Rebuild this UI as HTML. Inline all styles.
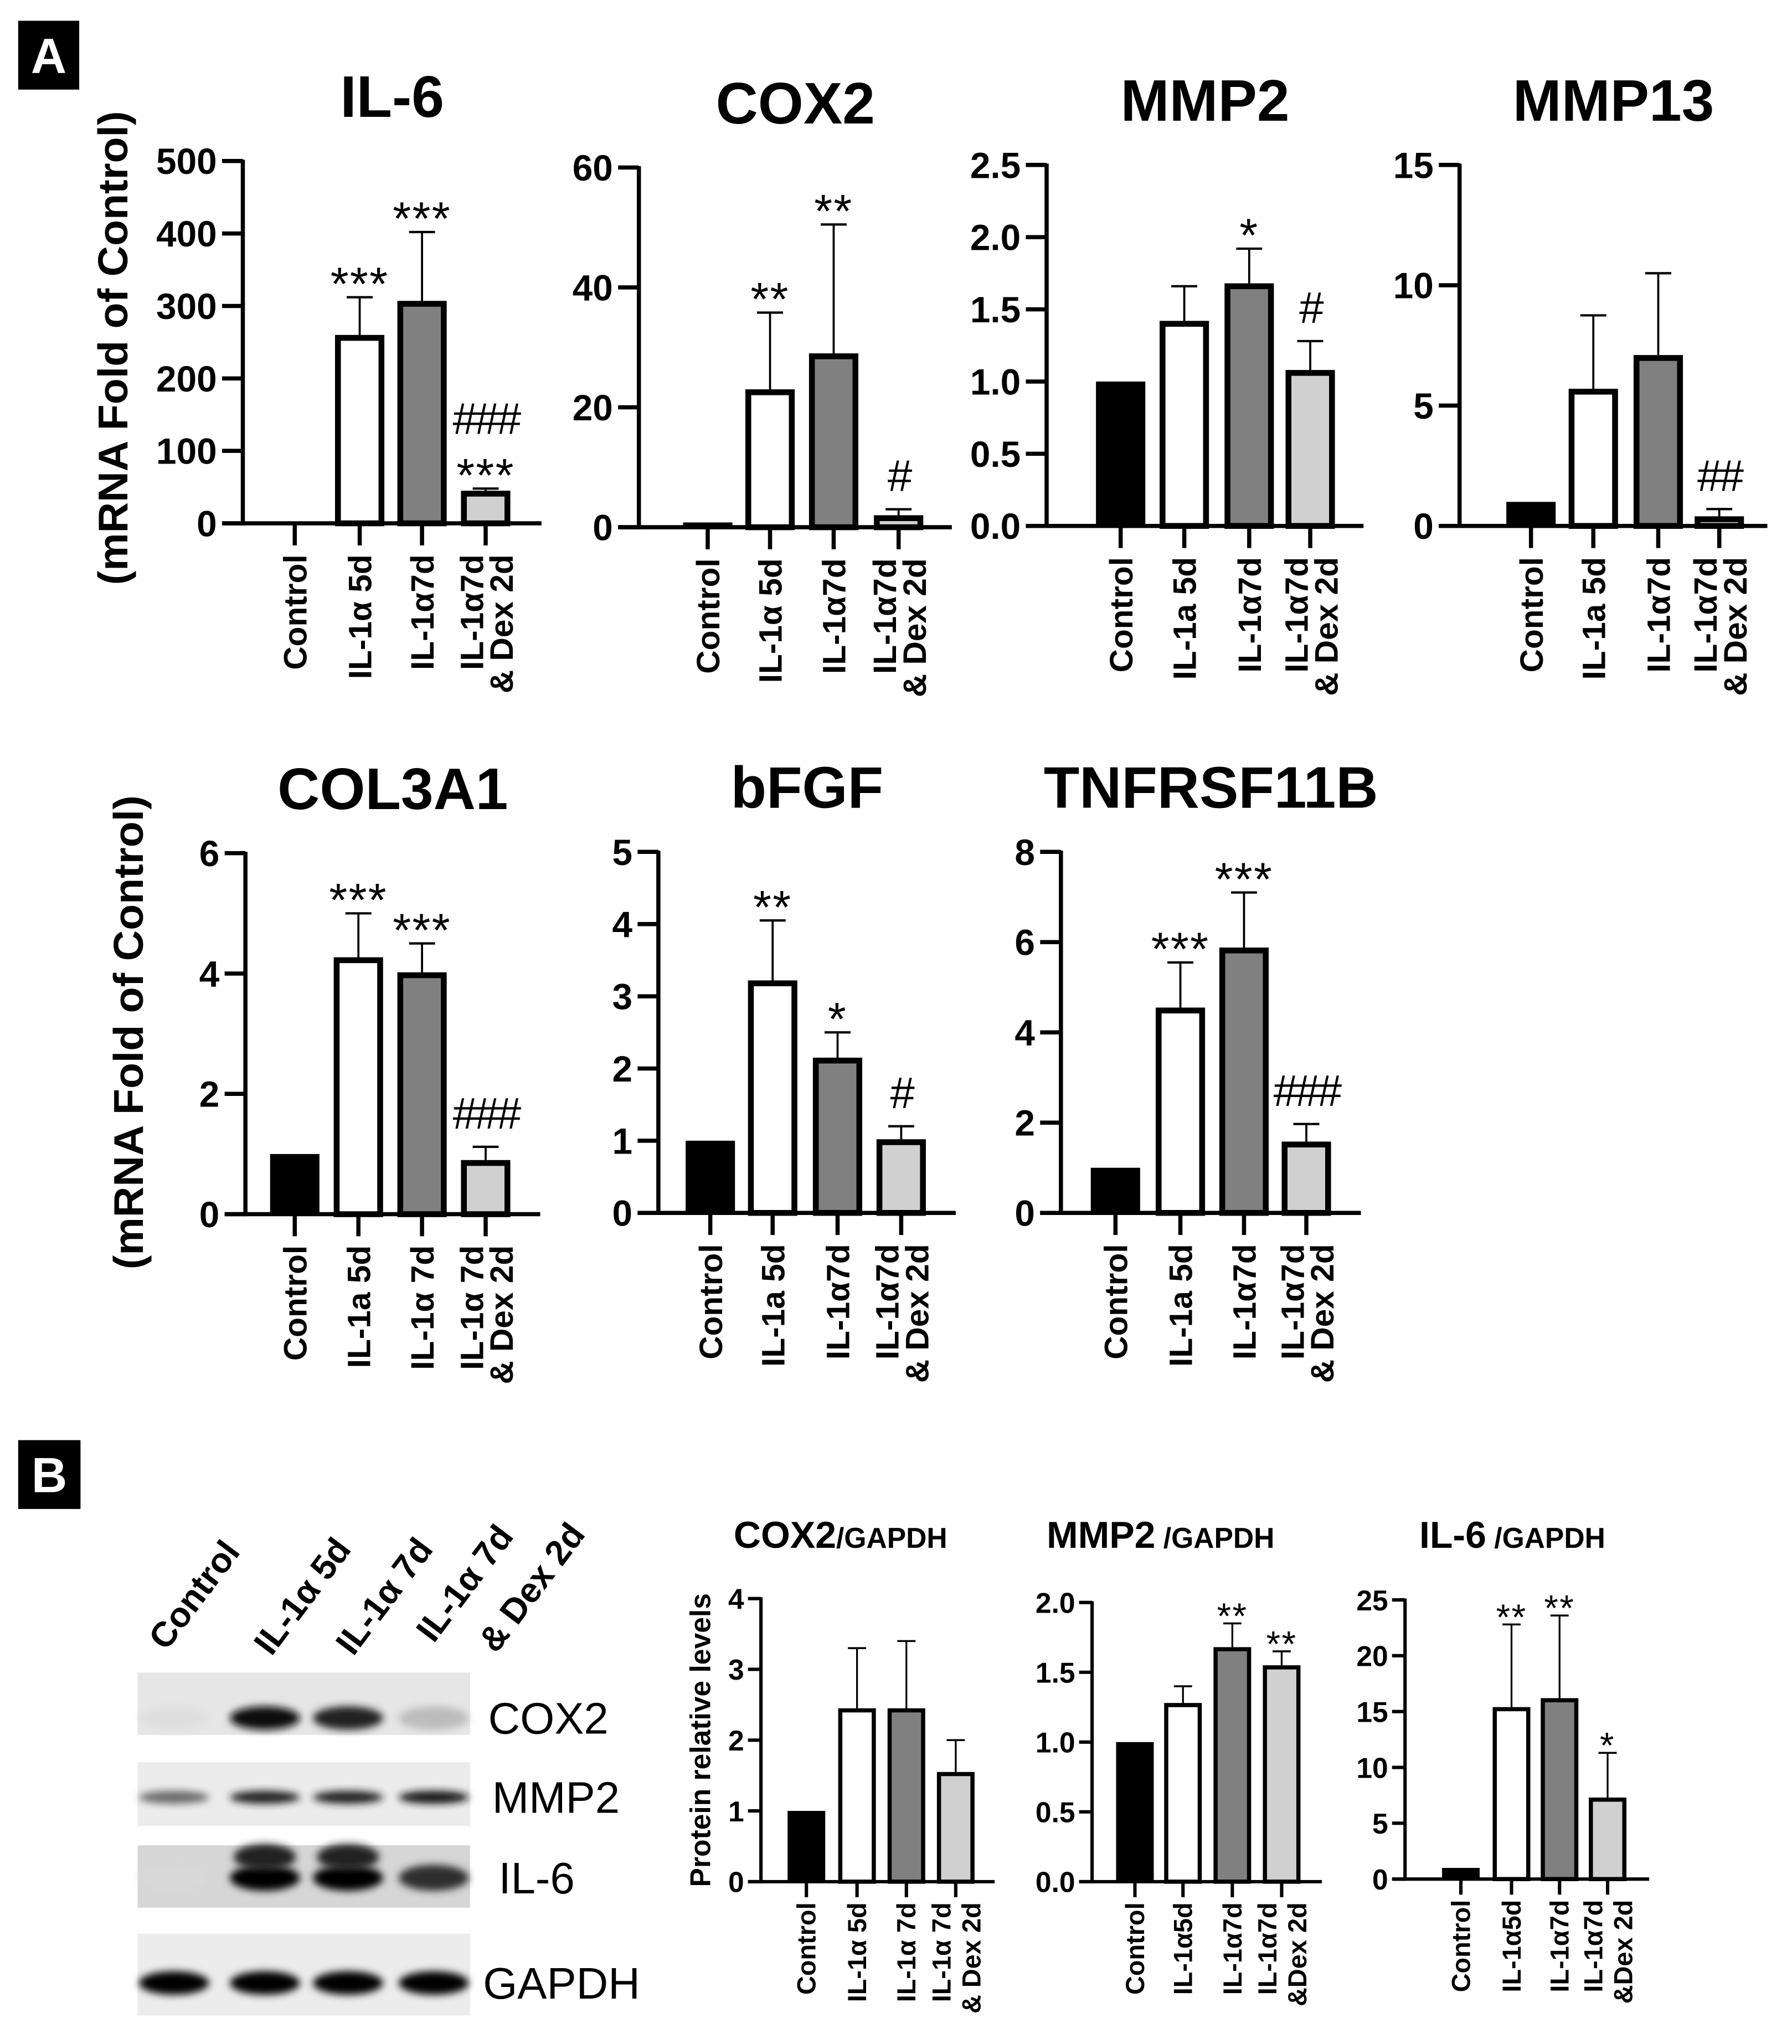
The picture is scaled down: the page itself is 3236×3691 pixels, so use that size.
<!DOCTYPE html>
<html><head><meta charset="utf-8"><style>
html,body{margin:0;padding:0;background:#fff;}
svg{display:block;}
text{font-family:"Liberation Sans",sans-serif;}
</style></head><body>
<svg id="fig" xmlns="http://www.w3.org/2000/svg" width="3236" height="3691" viewBox="0 0 1380 1574" preserveAspectRatio="none">
<defs><filter id="blur" x="-20%" y="-50%" width="140%" height="200%"><feGaussianBlur stdDeviation="3"/></filter></defs>
<rect x="0" y="0" width="1380" height="1574" fill="#fff"/>
<g><rect x="14" y="16" width="47" height="53" fill="#000"/><text x="37.5" y="56" text-anchor="middle" fill="#fff" font-family="Liberation Serif,serif" font-weight="bold" font-size="38">A</text></g>
<g><rect x="14" y="1109" width="48" height="53" fill="#000"/><text x="38" y="1149" text-anchor="middle" fill="#fff" font-family="Liberation Serif,serif" font-weight="bold" font-size="38">B</text></g>
<text transform="translate(98,268) rotate(-90)" text-anchor="middle" font-weight="bold" font-size="32" textLength="365" lengthAdjust="spacingAndGlyphs">(mRNA Fold of Control)</text>
<text transform="translate(110,795) rotate(-90)" text-anchor="middle" font-weight="bold" font-size="32" textLength="365" lengthAdjust="spacingAndGlyphs">(mRNA Fold of Control)</text>
<text transform="translate(547,1340) rotate(-90)" text-anchor="middle" font-weight="bold" font-size="22">Protein relative levels</text>
<g id="blot"></g>
<g id="charts"></g>
</svg>
<script>
// ---- Panel A data ----
const groups = ["Control","IL-1α 5d","IL-1α7d","IL-1α7d & Dex 2d"];
const il6Values = [1, 260, 307, 45];
const il6Err = [0, 312, 402, 48];
const il6Ticks = ["0","100","200","300","400","500"];
const cox2Values = [0.8, 23, 29, 2];
const cox2Err = [0, 35.8, 50.5, 3];
const cox2Ticks = ["0","20","40","60"];
const mmp2Values = [1.0, 1.42, 1.68, 1.08];
const mmp2Err = [0, 1.66, 1.92, 1.28];
const mmp2Ticks = ["0.0","0.5","1.0","1.5","2.0","2.5"];
const mmp13Values = [1, 5.7, 7.1, 0.4];
const mmp13Err = [0, 8.75, 10.5, 0.7];
const mmp13Ticks = ["0","5","10","15"];
const col3a1Values = [1, 4.27, 4.02, 0.9];
const col3a1Err = [0, 5.0, 4.5, 1.12];
const col3a1Ticks = ["0","2","4","6"];
const bfgfValues = [1, 3.22, 2.15, 1.02];
const bfgfErr = [0, 4.05, 2.5, 1.2];
const bfgfTicks = ["0","1","2","3","4","5"];
const tnfValues = [1, 4.55, 5.88, 1.58];
const tnfErr = [0, 5.55, 7.1, 1.97];
const tnfTicks = ["0","2","4","6","8"];
// ---- Panel B data ----
const pCox2Values = [1, 2.45, 2.45, 1.55];
const pCox2Err = [0, 3.3, 3.4, 2.0];
const pCox2Ticks = ["0","1","2","3","4"];
const pMmp2Values = [1, 1.28, 1.68, 1.55];
const pMmp2Err = [0, 1.4, 1.85, 1.65];
const pMmp2Ticks = ["0.0","0.5","1.0","1.5","2.0"];
const pIl6Values = [1, 15.4, 16.2, 7.3];
const pIl6Err = [0, 22.8, 23.6, 11.3];
const pIl6Ticks = ["0","5","10","15","20","25"];

const fills = ["#000","#fff","#808080","#d0d0d0"];
const NS = "http://www.w3.org/2000/svg";
const root = document.getElementById('charts');
function mk(tag, attrs, parent){ const e=document.createElementNS(NS,tag); for(const k in attrs) e.setAttribute(k,attrs[k]); (parent||root).appendChild(e); return e; }

const charts = [
 {name:"il6", title:"IL-6", v:il6Values, e:il6Err, t:il6Ticks, ax:187, x1:417, yTop:124, y0:403, cx:[227,277,325,374], bw:38, ann:[[],["***"],["***"],["###","***"]], labels:["Control","IL-1α 5d","IL-1α7d",["IL-1α7d","& Dex 2d"]], big:true},
 {name:"cox2", title:"COX2", v:cox2Values, e:cox2Err, t:cox2Ticks, ax:492, x1:733, yTop:129, y0:406, cx:[545,593,642,692], bw:38, ann:[[],["**"],["**"],["#"]], labels:["Control","IL-1α 5d","IL-1α7d",["IL-1α7d","& Dex 2d"]], big:true},
 {name:"mmp2", title:"MMP2", v:mmp2Values, e:mmp2Err, t:mmp2Ticks, ax:806, x1:1050, yTop:127, y0:405, cx:[863,912,962,1009], bw:38, ann:[[],[],["*"],["#"]], labels:["Control","IL-1a 5d","IL-1α7d",["IL-1α7d","& Dex 2d"]], big:true},
 {name:"mmp13", title:"MMP13", v:mmp13Values, e:mmp13Err, t:mmp13Ticks, ax:1124, x1:1361, yTop:127, y0:405, cx:[1179,1227,1277,1324], bw:38, ann:[[],[],[],["##"]], labels:["Control","IL-1a 5d","IL-1α7d",["IL-1α7d","& Dex 2d"]], big:true},
 {name:"col3a1", title:"COL3A1", v:col3a1Values, e:col3a1Err, t:col3a1Ticks, ax:189, x1:416, yTop:657, y0:935, cx:[227,276,325,374], bw:38, ann:[[],["***"],["***"],["###"]], labels:["Control","IL-1a 5d","IL-1α 7d",["IL-1α 7d","& Dex 2d"]], big:true},
 {name:"bfgf", title:"bFGF", v:bfgfValues, e:bfgfErr, t:bfgfTicks, ax:507, x1:736, yTop:656, y0:934, cx:[547,595,645,694], bw:38, ann:[[],["**"],["*"],["#"]], labels:["Control","IL-1a 5d","IL-1α7d",["IL-1α7d","& Dex 2d"]], big:true},
 {name:"tnfrsf11b", title:"TNFRSF11B", v:tnfValues, e:tnfErr, t:tnfTicks, ax:817, x1:1048, yTop:656, y0:934, cx:[859,909,958,1006], bw:38, ann:[[],["***"],["***"],["###"]], labels:["Control","IL-1a 5d","IL-1α7d",["IL-1α7d","& Dex 2d"]], big:true},
 {name:"protein-cox2", title:"COX2", sub:"/GAPDH", tx:565, v:pCox2Values, e:pCox2Err, t:pCox2Ticks, ax:586, x1:766, yTop:1231, y0:1449, cx:[621,660,698,736], bw:29, ann:[[],[],[],[]], labels:["Control","IL-1α 5d","IL-1α 7d",["IL-1α 7d","& Dex 2d"]], big:false},
 {name:"protein-mmp2", title:"MMP2", sub:" /GAPDH", tx:806, v:pMmp2Values, e:pMmp2Err, t:pMmp2Ticks, ax:841, x1:1018, yTop:1234, y0:1449, cx:[874,911,949,987], bw:29, ann:[[],[],["**"],["**"]], labels:["Control","IL-1α5d","IL-1α7d",["IL-1α7d","&Dex 2d"]], big:false},
 {name:"protein-il6", title:"IL-6", sub:" /GAPDH", tx:1093, v:pIl6Values, e:pIl6Err, t:pIl6Ticks, ax:1082, x1:1270, yTop:1232, y0:1447, cx:[1125,1164,1201,1238], bw:29, ann:[[],["**"],["**"],["*"]], labels:["Control","IL-1α5d","IL-1α7d",["IL-1α7d","&Dex 2d"]], big:false}
];

charts.forEach(c=>{
  const g = mk('g',{});
  
  
  const maxV = parseFloat(c.t[c.t.length-1]);
  const yS = v => c.y0 - (v/maxV)*(c.y0-c.yTop);
  const big = c.big;
  const lw = big?3.2:2.6, bstroke = big?4.5:3.2;
  const tx = (c.ax + c.x1)/2;
  const ty = big ? c.yTop-34 : 1192;
  const tt = mk('text',{x: big?tx:c.tx, y:ty, 'text-anchor': big?'middle':'start', 'font-weight':'bold', 'font-size': big?45:29},g);
  
  
  tt.textContent = c.title;
  if(c.sub){ const ts=mk('tspan',{'font-size':22},tt); ts.textContent=c.sub; }
  const ya = mk('line',{x1:c.ax,y1:c.yTop-1,x2:c.ax,y2:c.y0+lw/2,stroke:'#000','stroke-width':lw},g);
  
  
  c.t.forEach(lbl=>{
    const y = yS(parseFloat(lbl));
    mk('line',{x1:c.ax-(big?16:10),y1:y,x2:c.ax,y2:y,stroke:'#000','stroke-width':lw},g);
    const tl = mk('text',{x:c.ax-(big?20:13), y:y+(big?10:8), 'text-anchor':'end','font-weight':'bold','font-size':big?28:22},g);
    
    
    tl.textContent = lbl;
  });
  const xa = mk('line',{x1:c.ax-(big?16:10),y1:c.y0,x2:c.x1,y2:c.y0,stroke:'#000','stroke-width':lw},g);
  
  
  c.v.forEach((v,i)=>{
    const cx = c.cx[i];
    const top = yS(v);
    if(c.e[i] > v){
      const ey = yS(c.e[i]);
      mk('line',{x1:cx,y1:ey,x2:cx,y2:top,stroke:'#000','stroke-width':big?1.6:1.4},g);
      mk('line',{x1:cx-(big?10:7),y1:ey,x2:cx+(big?10:7),y2:ey,stroke:'#000','stroke-width':big?1.8:1.5},g);
    }
    const h = Math.max(c.y0-top,0.5);
    const r = mk('rect',{x:cx-c.bw/2+bstroke/2, y:top+bstroke/2, width:c.bw-bstroke, height:Math.max(h-bstroke/2,0.5), fill:fills[i], stroke:'#000','stroke-width':bstroke},g);
    if(i===0){ r.setAttribute('y', top); r.setAttribute('height', h); r.setAttribute('stroke','none'); r.setAttribute('x', cx-c.bw/2); r.setAttribute('width', c.bw); }
    
    
    mk('line',{x1:cx,y1:c.y0,x2:cx,y2:c.y0+(big?17:12),stroke:'#000','stroke-width':lw},g);
    const annTop = (c.e[i]>v? yS(c.e[i]) : top);
    const lines = c.ann[i];
    for(let k=lines.length-1, off=0; k>=0; k--, off++){
      const s = lines[k];
      const isHash = s[0]==='#';
      const at = mk('text',{x:cx, y: annTop - (big?12:10) - off*(big?28:22) + (isHash? -2:14), 'text-anchor':'middle', 'font-size': big?(isHash?34:36):(28), 'font-family': isHash?'Liberation Serif,serif':'Liberation Sans,sans-serif', 'letter-spacing': isHash?-2:1},g);
      
      
      at.textContent = s;
    }
    const lbl = c.labels[i];
    const arr = Array.isArray(lbl)?lbl:[lbl];
    const ly = c.y0 + (big?24:16);
    arr.forEach((s,j)=>{
      const dx = arr.length>1 ? (j===0?-11:12) : 0;
      const xl = cx+dx+(big?9:7);
      const te = mk('text',{transform:`translate(${xl},${ly}) rotate(-90)`, 'text-anchor':'end','font-weight':'bold','font-size':big?25:20},g);
      
      
      te.textContent = s;
    });
  });
});

// ---- Western blot ----
const blotRows = ["COX2","MMP2","IL-6","GAPDH"];
const blotLanes = ["Control","IL-1α 5d","IL-1α 7d","IL-1α 7d"];
const bandCox2 = [0.05, 0.95, 0.85, 0.2];
const bandMmp2 = [0.55, 0.85, 0.85, 0.9];
const bandIl6 = [0.08, 1.0, 1.0, 0.8];
const bandGapdh = [1, 1, 1, 1];
const bandSets = [bandCox2, bandMmp2, bandIl6, bandGapdh];
const blot = document.getElementById('blot');
const strips = [[1288,1336,'#e6e6e6'],[1357,1406,'#ececec'],[1421,1469,'#d6d6d6'],[1489,1552,'#ececec']];
const bandY = [1323,1384,1446,1527];
const bandH = [18,10,20,18];
const laneX = [134,204,268,334];
strips.forEach((s,ri)=>{
  const r = mk('rect',{x:106,y:s[0],width:256,height:s[1]-s[0],fill:s[2]},blot);
  
  
  bandSets[ri].forEach((d,li)=>{
    const c = Math.round(235*(1-d));
    const e = mk('ellipse',{cx:laneX[li],cy:bandY[ri],rx:27,ry:bandH[ri]/2,fill:`rgb(${c},${c},${c})`,filter:'url(#blur)'},blot);
    
    
    if(ri===2 && (li===1||li===2)){
      const e2 = mk('ellipse',{cx:laneX[li],cy:1430,rx:24,ry:10,fill:'#222',filter:'url(#blur)'},blot);
      
      
    }
  });
  const t = mk('text',{x:[376,379,384,372][ri], y:bandY[ri]+12, 'font-size':34, fill:'#000'},blot);
  
  
  t.textContent = blotRows[ri];
});
const laneLabelPos = [[128,1272],[209,1276],[272,1276],[334,1266]];
blotLanes.forEach((s,i)=>{
  const t = mk('text',{transform:`translate(${laneLabelPos[i][0]},${laneLabelPos[i][1]}) rotate(-53)`,'font-weight':'bold','font-size':27},blot);
  
  
  t.textContent = s;
});
const dex = mk('text',{transform:'translate(382,1274) rotate(-53)','font-weight':'bold','font-size':27},blot);


dex.textContent = '& Dex 2d';
</script>
</body></html>
